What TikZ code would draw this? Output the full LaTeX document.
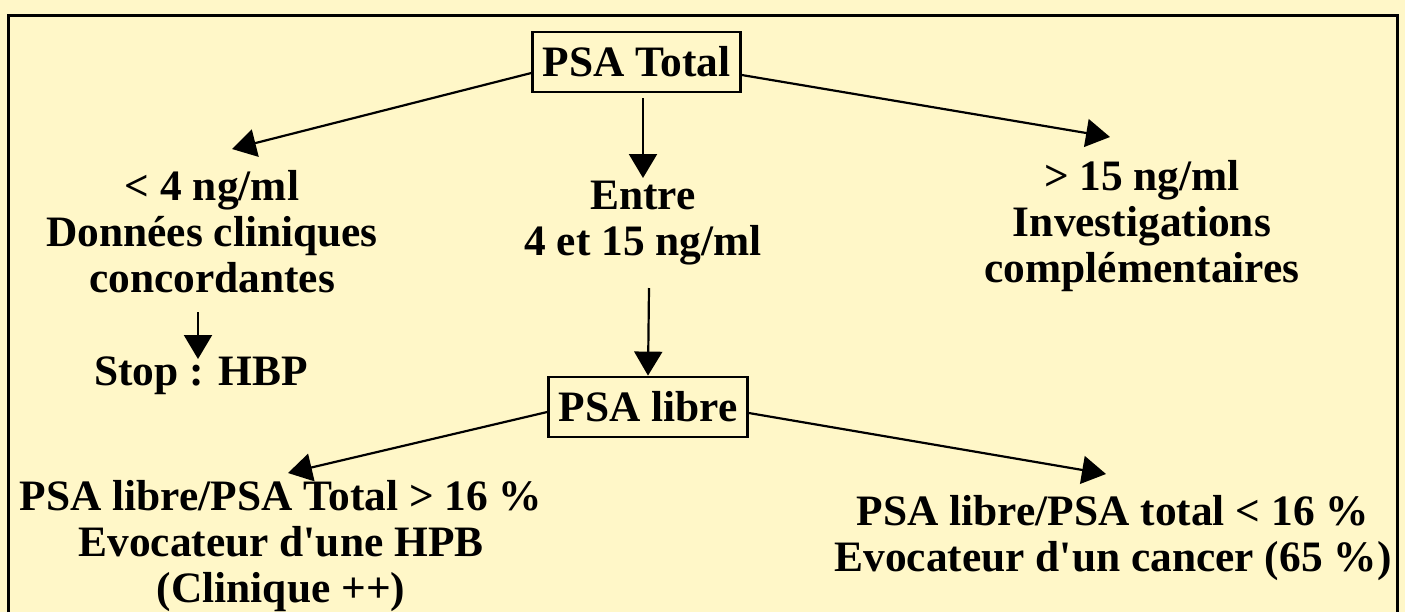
\documentclass[tikz,border=0pt]{standalone}
\usepackage{fontspec}
\setmainfont{Liberation Serif}
\usetikzlibrary{arrows.meta,positioning}
\definecolor{fond}{HTML}{FFF7C8}

\begin{document}
\begin{tikzpicture}[
x=0.5pt,
y=-0.5pt,
txt/.style={
  align=center,
  font=\fontsize{21.7}{23}\selectfont\bfseries,
  inner sep=0pt
  },
boite/.style={
  txt,
  draw,
  line width=1.4pt,
  inner xsep=5pt,
  minimum height=30pt
  },
fleche/.style={
  -{Triangle[length=12pt,width=14pt]},
  line width=1.1pt
  },
>=latex
]
\fill[fond] (0,0) rectangle (1405,612);
\useasboundingbox (0,0) rectangle (1405,612);
\draw[line width=1.5pt] (8,612) -- (8,15) -- (1397,15) -- (1397,612);

\node[boite] (ptotal) at (636.5,62) {PSA Total};
\node[txt] (inf4) at (212,232) {< 4 ng/ml\\Données cliniques\\concordantes};
\node[txt] (entre) at (643,223) {Entre\\4 et 15 ng/ml};
\node[txt] (sup15) at (1142,226) {> 15 ng/ml\\Investigations\\complémentaires};
\node[txt] (stop) at (201,376) {Stop : HBP};
\node[boite] (plibre) at (648,407) {PSA libre};
\node[txt] (hpb) at (281,546) {PSA libre/PSA Total > 16 \%\\Evocateur d\textquotesingle une HPB\\(Clinique ++)};
\node[txt] (cancer) at (1113,538) {PSA libre/PSA total < 16 \%\\Evocateur d\textquotesingle un cancer (65 \%)};

% bouts des fleches
\coordinate (b1) at (232,149);
\coordinate (b2) at (643,178);
\coordinate (b3) at (1110,137);
\coordinate (s1) at (198,312);
\coordinate (s2) at (198,359);
\coordinate (e1) at (649,288);
\coordinate (b4) at (288,473);
\coordinate (b5) at (1106,474);

\draw[fleche] ([yshift=-5.5pt]ptotal.west) -- (b1);
\draw[fleche] ([xshift=3.25pt,yshift=-2.5pt]ptotal.south) -- (b2);
\draw[fleche] ([yshift=-6.5pt]ptotal.east) -- (b3);
\draw[fleche] (s1) -- (s2);
\draw[fleche] (e1) -- (plibre.north);
\draw[fleche] ([yshift=-2.5pt]plibre.west) -- (b4);
\draw[fleche] ([yshift=-3pt]plibre.east) -- (b5);

\end{tikzpicture}
\end{document}
